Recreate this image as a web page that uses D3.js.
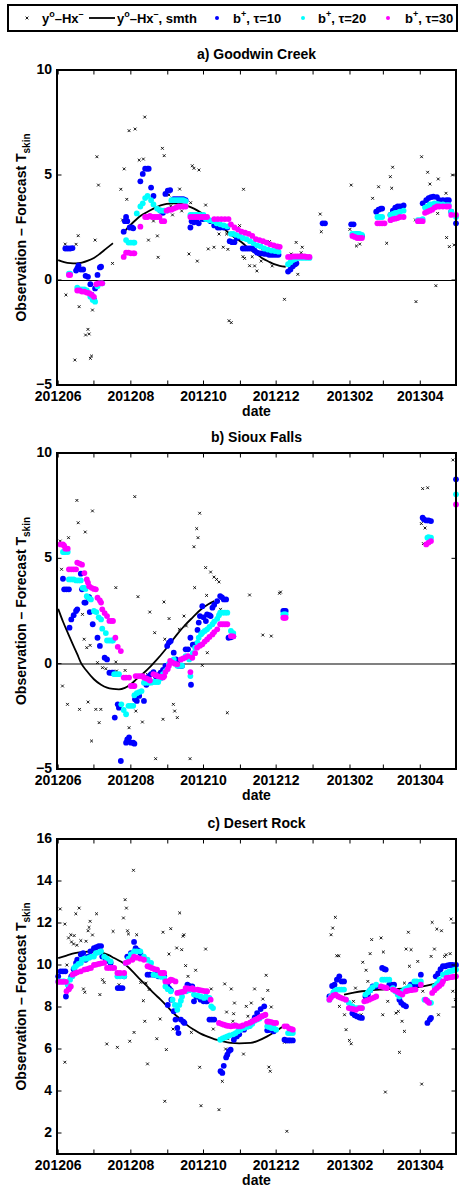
<!DOCTYPE html>
<html>
<head>
<meta charset="utf-8">
<script src="https://cdn.jsdelivr.net/npm/d3@7"></script>
<style>
  body { margin: 0; background: #fff; }
  text { font-family: 'Liberation Sans', Arial, sans-serif; font-weight: bold; }
</style>
</head>
<body>
<div id="chart"></div>
<script>

// ━━━━━━━━━━━━━━━━━━━━━━━━━━━━━━━━━━━━━━━━━━━━━━━━━━━━━━━━━━━━━━━━━━━━━━━━━━━━━━
// Data: [day since 2012-06-01, obs - forecast Tskin] /////////////////////////////
// ━━━━━━━━━━━━━━━━━━━━━━━━━━━━━━━━━━━━━━━━━━━━━━━━━━━━━━━━━━━━━━━━━━━━━━━━━━━━━━

const panelTitles = ['a) Goodwin Creek', 'b) Sioux Falls', 'c) Desert Rock'];
const tickMonths = ['201206', '201208', '201210', '201212', '201302', '201304'];

// a) Goodwin Creek
const obsA = [[5.9,1.71],[6.5,-0.71],[14,-3.81],[15,1.7],[16.8,2.11],[17.6,-1.27],[23,-2.62],[25,-2.35],[26,-2.57],[27,-3.73],[28,-3.62],[28.8,-1.43],[31,1.9],[32.5,5.87],[33.8,4.52],[45.6,0.79],[52.6,4.32],[54,2.86],[55.4,5.29],[57.6,3.84],[59.5,7.11],[64.6,7.19],[68,5.71],[71.5,5.76],[72.7,7.76],[75.8,1.9],[80,2.81],[83.3,2.1],[83.9,1.08],[87.5,6.27],[89,5.92],[93,4.05],[94.5,3.52],[96,3.1],[102,4.33],[103.7,3.29],[109.8,1.24],[111.2,3.68],[112.6,5.44],[114,5.32],[116.8,0.9],[118.2,5.24],[123.8,3.57],[126,1.48],[130.8,1.56],[135,2.19],[138.6,1.56],[141.4,2.19],[142.5,1.46],[142,2.9],[143.4,-1.94],[145.3,-2.03],[152.3,2.59],[155.1,1.11],[155.6,4.32],[156.5,1.03],[160.7,0.68],[162.9,1.11],[164.9,0.67],[166.8,0.43],[170.4,0.9],[171.8,1.51],[177.4,1.83],[179.7,0.67],[190,-0.92],[195.6,1.24],[199.8,1.79],[201.2,0.27],[204,1.3],[204.9,1.56],[220,3.14],[220.9,2.3],[244.9,2.41],[246,4.52],[250.4,1.62],[253.2,1.71],[264,3.89],[269,4.44],[275.8,1.75],[278.9,4.92],[280,4.37],[280.8,5.37],[299.9,2.86],[300.4,-1.03],[305.1,5.87],[310.2,5.13],[312.1,4.57],[317.1,-0.27],[318.6,3.17],[319.1,4.81],[325.6,4.13],[326.1,2.02],[328.4,1.59],[331.1,5.0],[332.5,1.67]];
const smthA = [
  [[0,0.95],[5,0.85],[10,0.8],[15,0.79],[20,0.83],[25,0.92],[30,1.05],[35,1.25],[40,1.48],[46,1.75]],
  [[54,2.2],[57,2.4],[63,2.75],[69,3.05],[75,3.25],[80,3.4],[86,3.55],[91,3.62],[97,3.65],[103,3.62],[109,3.52],[114,3.4],[120,3.2],[125,3.0],[130,2.8],[136,2.6],[140,2.4],[144,2.2],[150,1.95],[155,1.75],[160,1.5],[166,1.27],[171,1.05],[177,0.87],[182,0.74],[186,0.67],[191,0.63]]
];
const tau10A = [[6,1.5],[8,1.5],[10,1.5],[12,1.52],[15,0.45],[16,0.55],[17,0.7],[19,0.5],[21,0.5],[23,0.2],[25,0.15],[27,-0.2],[28,-0.7],[30,-0.92],[31,-0.4],[33,0.24],[35,0.6],[36,0.63],[55,2.3],[56,2.8],[57,3.0],[58,2.8],[60,2.5],[62,2.5],[63,2.46],[69,4.7],[71,5.05],[73,5.3],[75,5.3],[76,5.3],[78,4.4],[80,4.0],[86,3.3],[88,3.2],[90,4.1],[92,4.25],[94,4.28],[97,3.85],[99,3.85],[101,3.85],[103,3.85],[105,3.85],[107,3.8],[111,2.5],[112,2.8],[114,2.75],[116,2.8],[118,2.7],[121,2.9],[123,2.9],[125,2.9],[128,2.8],[131,2.6],[134,2.5],[136,2.5],[139,2.5],[142,2.5],[144,1.85],[146,1.8],[148,1.8],[150,2.0],[152,2.05],[155,1.5],[157,1.5],[159,1.5],[161,1.5],[163,1.5],[165,1.4],[167,1.3],[169,1.27],[171,1.27],[173,1.25],[175,1.25],[177,1.2],[179,1.2],[181,1.2],[183,1.2],[185,1.2],[193,0.4],[195,0.5],[197,0.65],[199,0.75],[200,0.8],[222,2.7],[224,2.7],[246,2.65],[248,2.65],[251,2.2],[253,2.15],[255,2.1],[267,3.25],[269,3.35],[271,3.4],[272,3.4],[279,3.1],[281,3.3],[283,3.45],[285,3.5],[287,3.5],[290,3.55],[306,3.65],[309,3.8],[311,3.9],[313,3.95],[315,3.97],[318,3.95],[320,3.8],[323,3.8],[326,3.8],[328,3.8],[330,3.25],[334,2.7]];
const tau20A = [[9,0.3],[10,0.3],[16,-0.37],[18,-0.45],[20,-0.45],[22,-0.45],[24,-0.5],[27,-0.8],[29,-0.95],[31,-1.03],[33,-0.3],[35,-0.16],[37,-0.16],[57,1.9],[59,1.78],[61,1.78],[63,1.78],[64,1.78],[66,3.17],[69,3.5],[71,3.65],[73,3.9],[75,4.0],[78,3.8],[80,3.6],[83,3.4],[85,3.33],[87,3.3],[89,3.3],[91,3.3],[93,3.35],[95,3.8],[97,3.8],[99,3.8],[101,3.8],[103,3.8],[105,3.8],[107,3.75],[111,3.1],[113,3.1],[115,3.1],[117,3.1],[119,3.1],[122,3.1],[124,2.9],[127,2.85],[130,2.8],[133,2.7],[136,2.65],[139,2.6],[142,2.55],[145,2.2],[147,2.2],[149,2.15],[152,2.1],[155,2.0],[158,1.95],[161,1.85],[164,1.75],[167,1.65],[170,1.6],[173,1.5],[176,1.45],[179,1.4],[182,1.38],[185,1.35],[193,0.75],[195,0.85],[197,0.95],[199,1.0],[202,1.05],[205,1.05],[208,1.05],[211,1.05],[247,2.2],[249,2.2],[251,2.2],[253,2.2],[255,2.15],[268,3.0],[270,3.0],[272,3.0],[279,3.1],[281,3.15],[283,3.2],[285,3.2],[287,3.25],[290,3.3],[302,2.85],[304,2.85],[306,2.9],[308,3.45],[310,3.5],[312,3.6],[314,3.6],[316,3.65],[318,3.62],[320,3.6],[323,3.6],[326,3.57],[328,3.57],[330,3.25],[334,3.0]];
const tau30A = [[9,0.24],[10,0.24],[16,-0.5],[18,-0.5],[20,-0.55],[22,-0.55],[24,-0.6],[26,-0.63],[28,-0.7],[30,-0.8],[32,-0.2],[34,-0.16],[36,-0.16],[37,-0.16],[55,1.1],[57,1.3],[59,1.3],[61,1.27],[63,1.27],[64,1.27],[69,2.54],[73,3.0],[75,3.0],[77,3.05],[79,3.0],[81,3.0],[83,3.0],[85,3.0],[87,2.8],[89,2.8],[91,3.3],[93,3.35],[95,3.35],[97,3.4],[99,3.45],[101,3.5],[103,3.5],[105,3.5],[107,3.5],[111,3.0],[113,3.0],[115,3.0],[117,3.0],[119,3.0],[121,3.0],[123,3.0],[125,3.0],[131,2.9],[134,2.9],[137,2.9],[140,2.9],[143,2.9],[145,2.65],[148,2.5],[151,2.4],[154,2.3],[157,2.25],[160,2.2],[163,2.1],[166,1.95],[169,1.9],[172,1.85],[175,1.78],[178,1.7],[181,1.65],[184,1.6],[186,1.58],[193,1.1],[195,1.1],[197,1.12],[199,1.12],[201,1.12],[203,1.12],[205,1.12],[207,1.12],[209,1.1],[211,1.1],[247,2.1],[249,2.05],[251,2.0],[253,2.0],[255,2.0],[268,2.7],[270,2.7],[272,2.7],[274,2.7],[279,2.85],[281,2.9],[283,2.92],[285,2.95],[287,3.0],[290,3.0],[302,2.8],[304,2.8],[306,2.8],[308,3.2],[310,3.25],[312,3.3],[314,3.35],[316,3.45],[318,3.5],[320,3.5],[323,3.5],[326,3.5],[328,3.5],[330,3.1],[334,3.1]];

// b) Sioux Falls
const obsB = [[1.7,5.82],[2.8,4.48],[3.6,-1.06],[7.8,-1.93],[8.7,5.98],[15.7,7.75],[16.8,6.69],[17.9,-2.17],[20.4,2.34],[21.8,1.16],[22.7,6.25],[24,0.76],[25.1,-1.82],[26.8,0.87],[28,-3.67],[28.8,7.25],[31.6,-2.17],[33,0.05],[34.4,-2.8],[35.8,-2.17],[37.2,-0.19],[40,-0.24],[48.4,3.61],[48.4,0.08],[49,-0.35],[56.2,-0.32],[59.5,-3.04],[64.3,7.93],[65.2,-2.25],[67,3.18],[70.7,-2.77],[75,-0.51],[76.9,2.45],[81,1.47],[81.8,-4.51],[88,-2.64],[88.8,2.93],[89.5,1.16],[93.1,2.14],[96.7,-1.93],[97.8,-2.25],[100,-2.56],[101.7,1.63],[105.6,2.26],[107.6,1.79],[110.7,-4.51],[114,5.55],[114.6,3.61],[116.3,6.41],[117.4,5.98],[118.8,7.14],[121,-0.08],[123.8,4.56],[124.6,3.24],[125.2,0.52],[128,4.35],[130.8,4.11],[133,4.0],[135,3.88],[136.3,2.58],[142,-2.33],[160.7,3.26],[171.8,1.36],[178.9,1.31],[185.8,3.34],[186.7,3.4],[304.9,6.65],[306,8.31],[306.6,5.7],[308,6.44],[310.2,8.35],[331.4,9.67]];
const smthB = [
  [[0,2.6],[4,2.0],[8,1.47],[12,0.95],[16,0.45],[19,0.05],[24,-0.35],[30,-0.74],[36,-1.0],[41,-1.14],[46,-1.2],[51,-1.22],[56,-1.15],[61,-0.98],[66,-0.72],[72,-0.43],[78,-0.1],[83,0.2],[89,0.6],[94.5,1.0],[100,1.4],[106,1.8],[113,2.2],[120,2.58],[126,2.82],[131,2.97]]
];
const tau10B = [[4,4.03],[5,3.53],[7,3.53],[9,3.53],[9.5,1.71],[11,2.1],[13,2.3],[15,2.5],[16,2.58],[19,4.27],[20,3.53],[22,2.9],[23,2.9],[25,3.16],[26,3.16],[26.5,2.45],[29,1.87],[33,1.23],[35,0.84],[39,0.28],[41,0.2],[43,-0.43],[45,-0.43],[46,-0.43],[47.5,-2.56],[50,-1.93],[51,-2.09],[52.6,-4.62],[57,-3.75],[58,-3.6],[59.5,-3.5],[61,-3.75],[63,-3.75],[64,-3.8],[64.5,-1.69],[66,-1.77],[68,-1.53],[72,-1.77],[74,-1.0],[76,-0.6],[78,-0.5],[80,-0.4],[82,-0.6],[84,-0.55],[86,-0.43],[88,-0.3],[90,-0.11],[91.5,0.84],[93,1.0],[94.5,1.08],[97,0.52],[99,0.2],[100,0.05],[101,-0.1],[103,-0.1],[104,-0.1],[107,0.68],[109,0.68],[111,1.23],[111.5,-1.0],[113,0.9],[115,0.92],[117,1.6],[118,1.95],[119,2.26],[121,2.73],[122,2.2],[124,2.02],[125,2.34],[127,2.3],[128,2.26],[129.5,2.66],[131,2.8],[133.5,2.97],[136,3.21],[137.5,3.15],[139,3.05],[141,3.05],[143,1.23],[145,1.25],[147,1.3],[189,2.5],[190,2.5],[191,2.5],[306,6.93],[307,6.85],[309,6.8],[311,6.8],[313,6.77],[334,8.75]];
const tau20B = [[4,5.3],[5,5.3],[6,5.3],[8,5.3],[9,4.0],[11,4.0],[13,4.0],[15,3.95],[17,3.95],[19,3.95],[20.5,3.6],[22,3.6],[23,3.55],[24,3.2],[26,3.1],[27.5,3.05],[30,2.5],[32,2.45],[34,2.2],[36,2.1],[37,1.66],[40,1.45],[41,1.1],[43,1.1],[45,1.1],[46,1.1],[47,-0.5],[49,-0.5],[51,-0.5],[53,-1.93],[55,-2.2],[57,-2.4],[59,-2.0],[61,-2.0],[63,-2.0],[64,-1.5],[66,-1.4],[68,-1.35],[70,-1.3],[72,-0.9],[74,-0.9],[76,-0.9],[78,-0.9],[80,-0.87],[82,-0.87],[84,-0.87],[86,-0.7],[88,-0.5],[90,-0.35],[91.5,-0.27],[93,0],[95,0.1],[97,0.2],[100,-0.1],[102,-0.1],[104,-0.1],[107,0.36],[109,0.3],[110,0.2],[111,-0.59],[113,0.5],[115,0.76],[117,1.0],[118,1.23],[120,1.4],[121,1.47],[123,1.55],[125,1.63],[127,1.75],[129.5,1.87],[131,2.0],[133.5,2.13],[135,2.3],[136,2.42],[138,2.42],[140,2.42],[142,2.42],[145,1.55],[147,1.45],[189,2.34],[190,2.34],[191,2.34],[310,5.98],[311,6.0],[313,5.98],[334,8.04]];
const tau30B = [[2,5.66],[4,5.66],[5,5.6],[6,5.46],[8,5.46],[9,4.48],[11,4.48],[13,4.48],[15,4.48],[16,4.8],[18,4.75],[20,4.7],[22,4.3],[24,4.0],[25,3.85],[26,3.68],[28,3.6],[30,3.55],[31.6,3.53],[33,3.13],[35,3.0],[36,2.9],[37,2.58],[39,2.4],[41,2.26],[43,2.03],[45,2.03],[46,2.03],[48,1.23],[50,0.8],[52.6,0.6],[55,-0.66],[57,-0.66],[59.5,-0.66],[61,-1.06],[63,-1.06],[64,-1.06],[65,-0.59],[67,-0.59],[69,-0.59],[71,-0.59],[72,-0.66],[74,-0.7],[76,-0.75],[77,-0.8],[80,-0.5],[82,-0.55],[84,-0.6],[86,-0.62],[88,-0.66],[89,-0.6],[90,-0.4],[92,-0.25],[93,-0.1],[94,0.13],[96,0.05],[98,0],[100,-0.03],[103,0.2],[105,0.25],[107,0.3],[109,0.36],[111,-0.4],[112.6,0.28],[115,0.5],[116.6,0.76],[119,0.85],[121,0.92],[123,1.05],[125,1.15],[127,1.27],[129.5,1.39],[131,1.5],[133.5,1.63],[136,1.87],[138,1.87],[140,1.87],[142,1.87],[145,1.31],[147,1.3],[189,2.18],[190,2.18],[191,2.18],[309,5.66],[311,5.75],[313,5.82],[334,7.56]];

// c) Desert Rock
const obsC = [[1.7,12.67],[5.6,11.95],[7.3,10.0],[5.6,5.37],[8.7,11.29],[10.6,11.44],[11.2,11.1],[12.9,11.0],[13.4,11.4],[14.8,12.44],[15.7,10.94],[17.6,12.71],[19,11.16],[21.2,8.86],[22.3,8.7],[23.4,11.13],[25.1,11.63],[25.9,11.79],[26.8,12.08],[28.8,11.43],[32.2,12.44],[35,8.59],[37.2,9.3],[38.6,9.17],[40.8,6.24],[46.1,11.6],[49.7,6.08],[51.1,9.06],[54.8,12.24],[56.2,13.11],[57.3,12.71],[58.2,11.63],[59,11.48],[60.1,6.37],[63.2,14.51],[63.7,6.79],[65.9,11.44],[69.3,9.17],[71.5,8.3],[72.7,7.32],[73.8,9.14],[75,5.29],[76.3,8.83],[82.8,6.49],[85.6,7.43],[88,11.56],[89.5,3.51],[90.8,5.97],[93,10.52],[94.5,11.73],[96.4,6.95],[99.5,10.81],[102,12.48],[103.7,10.73],[104.8,11.37],[105.6,11.44],[107,9.97],[109,9.46],[111.8,6.79],[115.4,9.75],[118.8,5.13],[119.9,3.3],[123.8,10.76],[128.5,8.86],[130.2,6.95],[135,3.11],[137.8,4.46],[139.8,9.1],[141.4,7.76],[142.5,6.49],[140.6,6.0],[145.3,8.86],[148,8.19],[147.3,7.68],[146.7,7.32],[155.6,5.76],[157.9,8.03],[159.3,7.56],[162.1,8.19],[164.9,8.86],[171.8,8.38],[174.6,9.51],[176,8.79],[176.9,5.14],[178,4.94],[178.9,8.0],[190,6.32],[192,2.08],[228.3,8.51],[229.1,11.44],[230.5,11.76],[232.7,12.27],[233.9,10.44],[235.6,10.44],[236.1,8.03],[240.4,7.63],[241.7,6.92],[244.5,6.41],[246,6.25],[247.9,8.27],[249.6,8.9],[254.4,7.63],[255.7,10.13],[258.5,9.75],[260,9.22],[261.9,10.54],[263.2,11.21],[271.1,11.29],[272.5,7.63],[273,10.62],[274.7,3.95],[276.7,8.27],[283.6,7.71],[285.6,7.79],[286.5,5.84],[288.7,7.32],[290.7,6.84],[290.7,9.14],[292.1,10.76],[294,11.56],[294.9,9.94],[296.3,10.73],[301.9,10.17],[305.2,4.33],[306.1,8.75],[313.1,10.41],[314,12.03],[315.9,10.76],[317.9,11.71],[319.3,7.63],[321.8,11.63],[324.4,10.41],[325.7,10.49],[329.1,10.54],[329.9,12.19],[331.3,8.75],[333.5,8.35]];
const smthC = [
  [[0,10.33],[7,10.45],[14,10.57],[21,10.62],[27.5,10.65],[36,10.6],[42,10.48],[47,10.33],[53,10.15],[58,9.94],[64,9.6],[69,9.3],[75,8.97],[80,8.67],[86,8.35],[91.5,8.03],[97,7.7],[103,7.4],[108,7.15],[114,6.92],[120,6.72],[125,6.6],[131,6.47],[136,6.4],[144.8,6.29],[152,6.27],[161.5,6.29],[168,6.4],[175.5,6.6],[182,6.82],[188,7.05]],
  [[240,8.59],[247,8.67],[255,8.75],[264,8.8],[272,8.83],[281,8.86],[289,8.87],[297,8.92],[306,8.98],[314,9.08],[323,9.22],[330,9.38]]
];
const tau10C = [[0,9.46],[2,9.7],[4,9.7],[6,9.7],[6.5,8.5],[9,8.9],[11,9.46],[13,9.8],[15,10.1],[16,10.25],[19,10.5],[21,10.57],[23,10.25],[25,10.4],[27,10.65],[30,10.8],[32,10.85],[34,10.9],[36,10.9],[37,10.4],[40,10.25],[42,10.2],[44,10.1],[50,8.9],[52,8.9],[54,8.9],[55.4,9.46],[58,10.4],[61,10.57],[63.7,11.1],[65,10.8],[67,10.7],[69,10.57],[75,9.54],[77,9.54],[80,9.54],[82,9.54],[84,9.46],[86,9.46],[88,9.46],[89,9.46],[91.5,9.06],[92,8.1],[93,8.9],[94.5,8.8],[95,8.35],[97,7.8],[98.5,7.4],[100,7.0],[101,6.76],[103,7.4],[105,7.3],[106,7.24],[108.5,9.06],[110,9.0],[112.6,8.98],[114,8.27],[116,8.5],[117,8.5],[119.6,8.35],[122,8.27],[124,8.27],[125,8.27],[127,7.4],[129,7.4],[131,7.4],[136.3,4.94],[137.8,4.86],[139,5.2],[141,5.6],[142,5.73],[143.4,5.9],[144.8,5.97],[147.5,6.44],[150,6.6],[152,6.7],[156,6.92],[160,7.1],[163,7.31],[165,7.5],[167,7.71],[170,7.9],[173,8.03],[175.5,6.89],[177,6.9],[179.7,6.92],[181,6.84],[190,6.44],[192,6.41],[193.6,6.41],[195,6.41],[197,6.41],[227.7,8.5],[230,9.0],[232,9.06],[234,9.3],[236,9.46],[238,9.22],[240,9.22],[246,8.03],[247,7.7],[249,7.6],[251,7.55],[253,7.5],[255,7.48],[258,8.5],[260,8.6],[262,8.8],[264,8.98],[267,8.98],[272,9.86],[274,9.8],[275,9.78],[278,9.06],[280,9.06],[282,9.06],[286.5,8.35],[288,8.2],[290,8.1],[292,8.03],[296,9.06],[298,9.06],[300.5,9.06],[304.5,9.54],[310,7.24],[312,7.4],[313,7.48],[317,9.46],[319,9.6],[321,9.8],[323,9.94],[325,9.94],[327,9.98],[329,10.0],[331,10.0],[334,10.0]];
const tau20C = [[0,9.22],[2,9.22],[4,9.22],[5,9.22],[8,9.06],[10,9.3],[12,9.46],[13.4,9.86],[15,9.95],[17,10.05],[19,10.1],[20,10.25],[22,10.3],[24,10.3],[26,10.35],[28,10.4],[30,10.4],[31.6,10.57],[34,10.6],[36,10.65],[38.6,10.4],[41,10.3],[44,10.17],[49.7,9.46],[52,9.46],[55.4,9.46],[56.7,10.1],[59,10.3],[61,10.5],[63.7,10.65],[66,10.65],[69,10.65],[72,10.4],[75,10.25],[78,10.1],[80,9.54],[83,9.5],[86,9.45],[89,9.38],[90,8.98],[92,8.85],[94.5,8.75],[96,8.35],[98,8.1],[100,7.87],[101.7,8.1],[103,8.3],[104,8.5],[107.6,8.75],[110,8.8],[112.6,8.83],[114,8.59],[117,8.55],[119.6,8.5],[122.5,8.43],[124,8.5],[127,8.43],[128.5,8.03],[130,7.95],[136,6.44],[138,6.5],[140,6.55],[142,6.6],[144,6.65],[147,6.7],[149,6.76],[151,6.85],[153,6.92],[156,7.0],[158.7,7.05],[161,7.1],[163,7.2],[165,7.35],[167,7.4],[169,7.45],[171,7.55],[175.5,7.08],[177,7.05],[179,7.0],[181,7.0],[183,6.92],[193,6.76],[195,6.76],[197,6.76],[227.7,8.35],[229,8.5],[231,8.7],[232,8.75],[234,8.83],[236,8.83],[238,8.83],[240,8.83],[241.6,8.35],[244,8.2],[247,8.03],[250,7.95],[252,7.95],[255,7.95],[258,8.59],[260,8.7],[262,8.8],[264,8.95],[267,9.06],[272,9.3],[274,9.3],[276,9.3],[278,9.3],[281,8.9],[283,8.75],[285,8.6],[286.5,8.5],[289,8.75],[291,8.85],[293,8.9],[295,8.98],[299,9.22],[301,9.22],[304.5,9.22],[307.5,8.35],[310,8.3],[313,8.2],[316,8.98],[318,9.1],[320,9.3],[323,9.54],[326,9.62],[328,9.68],[330,9.72],[332,9.75],[334,9.78]];
const tau30C = [[0,9.2],[2,9.2],[4,9.2],[6.5,9.2],[7,8.75],[9,8.85],[10.6,8.98],[12,9.54],[14,9.6],[16,9.65],[19,9.7],[22,9.78],[24,9.8],[26,9.84],[27.5,9.86],[30,10.0],[32,10.02],[34,10.05],[36,10.08],[38.6,10.1],[41,9.86],[43,9.86],[45,9.86],[47,9.86],[49.7,9.62],[52,9.62],[55.4,9.62],[56.7,10.1],[59,10.15],[62.3,10.25],[63.7,10.4],[66,10.35],[69,10.3],[72,10.25],[75,9.94],[77,9.9],[79,9.85],[81,9.8],[83,9.78],[86,9.62],[88,9.62],[89,9.62],[90,9.22],[92,9.22],[93,9.22],[94.5,9.3],[96,9.28],[98.5,9.22],[100,8.67],[102,8.7],[104,8.72],[106,8.75],[107,8.9],[109,8.88],[111,8.86],[112.6,8.9],[114,8.83],[117,8.83],[119,8.8],[121,8.78],[123,8.76],[125,8.75],[128,8.35],[135,7.24],[137,7.2],[139,7.16],[141,7.12],[143,7.1],[145,7.08],[147,7.1],[149,7.12],[151,7.08],[153,7.08],[155,7.12],[158,7.2],[161,7.25],[163,7.31],[165,7.38],[167,7.43],[169,7.5],[171,7.56],[173,7.6],[174,7.63],[175.5,7.31],[177,7.3],[179,7.28],[181,7.24],[183,7.24],[190,7.08],[192,7.08],[194,6.98],[196,6.95],[197,6.92],[227.7,8.35],[229,8.45],[231,8.55],[233,8.59],[235,8.5],[237,8.45],[239,8.4],[241.6,8.35],[244,7.95],[246,7.92],[248,7.9],[250,7.87],[253,7.95],[255,7.95],[257,8.27],[259,8.3],[261,8.35],[263,8.4],[265,8.45],[267,8.5],[271,8.98],[273,8.95],[275,8.92],[276,8.9],[281,8.83],[283,8.78],[285,8.72],[287,8.65],[289,8.59],[292,8.75],[294,8.78],[296,8.8],[298,8.82],[300,8.83],[304.5,9.06],[308.6,8.35],[310,8.27],[311.4,8.2],[314,8.67],[316,8.8],[318,8.9],[320,9.0],[322,9.1],[323,9.22],[326,9.38],[328,9.4],[330,9.42],[332,9.44],[334,9.46]];

// ━━━━━━━━━━━━━━━━━━━━━━━━━━━━━━━━━━━━━━━━━━━━━━━━━━━━━━━━━━━━━━━━━━━━━━━━━━━━━━
// SVG setup ////////////////////////////////////////////////////////////////////
// ━━━━━━━━━━━━━━━━━━━━━━━━━━━━━━━━━━━━━━━━━━━━━━━━━━━━━━━━━━━━━━━━━━━━━━━━━━━━━━

const width = 459, height = 1188;
const day0 = Date.UTC(2012, 5, 1);
const toDate = d => new Date(day0 + d * 864e5);

const svg = d3.select('#chart').append('svg')
  .attr('width', width)
  .attr('height', height)
  .attr('viewBox', [0, 0, width, height]);

const x = d3.scaleUtc()
  .domain([new Date(Date.UTC(2012, 4, 31)), new Date(Date.UTC(2013, 4, 1))])
  .range([57, 456]);

const colors = { tau10: '#0000ff', tau20: '#00ffff', tau30: '#ff00ff' };

const panels = [
  { title: panelTitles[0], top: 70, bottom: 385, domain: [-5, 10], yticks: [-5, 0, 5, 10], zero: { color: '#000', w: 1, off: 0.5 },
    obs: obsA, smth: smthA, tau10: tau10A, tau20: tau20A, tau30: tau30A },
  { title: panelTitles[1], top: 453, bottom: 769, domain: [-5, 10], yticks: [-5, 0, 5, 10], zero: { color: '#808080', w: 2, off: 0 },
    obs: obsB, smth: smthB, tau10: tau10B, tau20: tau20B, tau30: tau30B },
  { title: panelTitles[2], top: 839, bottom: 1154, domain: [1, 16], yticks: [2, 4, 6, 8, 10, 12, 14, 16], zero: null,
    obs: obsC, smth: smthC, tau10: tau10C, tau20: tau20C, tau30: tau30C }
];

const xMark = 'M-1.4,-1.4L1.4,1.4M-1.4,1.4L1.4,-1.4';

// ━━━━━━━━━━━━━━━━━━━━━━━━━━━━━━━━━━━━━━━━━━━━━━━━━━━━━━━━━━━━━━━━━━━━━━━━━━━━━━
// Panels ///////////////////////////////////////////////////////////////////////
// ━━━━━━━━━━━━━━━━━━━━━━━━━━━━━━━━━━━━━━━━━━━━━━━━━━━━━━━━━━━━━━━━━━━━━━━━━━━━━━

panels.forEach(p => {
  const y = d3.scaleLinear().domain(p.domain).range([p.bottom, p.top]);
  const g = svg.append('g');
  const [x0, x1] = x.range();

  // zero line
  if (p.zero) {
    g.append('line')
      .attr('x1', x0).attr('x2', x1)
      .attr('y1', y(0) + p.zero.off).attr('y2', y(0) + p.zero.off)
      .attr('stroke', p.zero.color).attr('stroke-width', p.zero.w)
      .attr('shape-rendering', 'crispEdges');
  }

  // y° - Hx⁻ as small crosses
  g.append('g')
    .attr('stroke', '#000').attr('stroke-width', 0.9).attr('fill', 'none')
    .selectAll('path')
    .data(p.obs)
    .join('path')
    .attr('transform', d => `translate(${x(toDate(d[0])).toFixed(2)},${y(d[1]).toFixed(2)})`)
    .attr('d', xMark);

  // smoothed line
  const line = d3.line()
    .x(d => x(toDate(d[0])))
    .y(d => y(d[1]))
    .curve(d3.curveMonotoneX);

  g.append('g')
    .selectAll('path')
    .data(p.smth)
    .join('path')
    .attr('d', line)
    .attr('fill', 'none')
    .attr('stroke', '#000')
    .attr('stroke-width', 1.8);

  // b+ dots, tau = 10, 20, 30
  ['tau10', 'tau20', 'tau30'].forEach(k => {
    g.append('g')
      .attr('fill', colors[k])
      .selectAll('circle')
      .data(p[k])
      .join('circle')
      .attr('cx', d => x(toDate(d[0])).toFixed(2))
      .attr('cy', d => y(d[1]).toFixed(2))
      .attr('r', 2.9);
  });

  // axes: ticks inward on all four sides
  const months = x.ticks(d3.utcMonth.every(1));
  const tk = 4.5;
  const ticks = g.append('g').attr('stroke', '#000').attr('stroke-width', 1);
  months.forEach(m => {
    const xx = x(m);
    ticks.append('line').attr('x1', xx).attr('x2', xx).attr('y1', p.bottom).attr('y2', p.bottom - tk);
    ticks.append('line').attr('x1', xx).attr('x2', xx).attr('y1', p.top).attr('y2', p.top + tk);
  });
  p.yticks.forEach(v => {
    ticks.append('line').attr('x1', x0).attr('x2', x0 + tk).attr('y1', y(v)).attr('y2', y(v));
    ticks.append('line').attr('x1', x1).attr('x2', x1 - tk).attr('y1', y(v)).attr('y2', y(v));
  });

  g.append('rect')
    .attr('x', x0).attr('y', p.top)
    .attr('width', x1 - x0).attr('height', p.bottom - p.top)
    .attr('fill', 'none').attr('stroke', '#000').attr('stroke-width', 2);

  // tick labels
  const fmt = d3.utcFormat('%Y%m');
  g.append('g')
    .attr('font-size', 14).attr('text-anchor', 'middle')
    .selectAll('text')
    .data(months.filter(m => tickMonths.includes(fmt(m))))
    .join('text')
    .attr('x', d => x(d))
    .attr('y', p.bottom + 16)
    .text(d => fmt(d));

  g.append('g')
    .attr('font-size', 14).attr('text-anchor', 'end')
    .selectAll('text')
    .data(p.yticks)
    .join('text')
    .attr('x', x0 - 5)
    .attr('y', d => y(d) + 4)
    .text(d => d < 0 ? '\u2212' + Math.abs(d) : d);

  // titles
  g.append('text')
    .attr('x', (x0 + x1) / 2).attr('y', p.top - 11)
    .attr('text-anchor', 'middle').attr('font-size', 14)
    .text(p.title);

  g.append('text')
    .attr('x', (x0 + x1) / 2).attr('y', p.bottom + 31)
    .attr('text-anchor', 'middle').attr('font-size', 14)
    .text('date');

  const yl = g.append('text')
    .attr('transform', `translate(26,${(p.top + p.bottom) / 2}) rotate(-90)`)
    .attr('text-anchor', 'middle').attr('font-size', 14);
  yl.append('tspan').text('Observation \u2013 Forecast T');
  yl.append('tspan').attr('font-size', 10).attr('dy', 4).text('skin');
});

// ━━━━━━━━━━━━━━━━━━━━━━━━━━━━━━━━━━━━━━━━━━━━━━━━━━━━━━━━━━━━━━━━━━━━━━━━━━━━━━
// Legend ///////////////////////////////////////////////////////////////////////
// ━━━━━━━━━━━━━━━━━━━━━━━━━━━━━━━━━━━━━━━━━━━━━━━━━━━━━━━━━━━━━━━━━━━━━━━━━━━━━━

const legend = svg.append('g').attr('id', 'legend');
legend.append('rect')
  .attr('x', 8).attr('y', 5).attr('width', 449).attr('height', 26)
  .attr('fill', '#fff').attr('stroke', '#000').attr('stroke-width', 2);

const ly = 18;
legend.append('path')
  .attr('transform', `translate(27,${ly})`)
  .attr('d', xMark).attr('stroke', '#000').attr('stroke-width', 0.9);
legend.append('line')
  .attr('x1', 89).attr('x2', 115).attr('y1', ly).attr('y2', ly)
  .attr('stroke', '#000').attr('stroke-width', 1.8);

const yo = (x0, suffix) => {
  const t1 = legend.append('text').attr('x', x0).attr('y', ly + 5).attr('font-size', 13);
  t1.append('tspan').text('y');
  t1.append('tspan').attr('font-size', 9).attr('dy', -6).text('o');
  t1.append('tspan').attr('dy', 6).text('\u2013Hx');
  t1.append('tspan').attr('font-size', 9).attr('dy', -6).text('\u2013');
  if (suffix) t1.append('tspan').attr('dy', 6).text(suffix);
};
yo(42, null);
yo(117, ', smth');

[['tau10', 217, 233, '10'], ['tau20', 303, 318, '20'], ['tau30', 388, 405, '30']].forEach(([k, cx, tx, v]) => {
  legend.append('circle').attr('cx', cx).attr('cy', ly).attr('r', 2).attr('fill', colors[k]);
  const t = legend.append('text').attr('x', tx).attr('y', ly + 5).attr('font-size', 13);
  t.append('tspan').text('b');
  t.append('tspan').attr('font-size', 9).attr('dy', -6).text('+');
  t.append('tspan').attr('dy', 6).text(', \u03c4=' + v);
});

</script>
</body>
</html>
